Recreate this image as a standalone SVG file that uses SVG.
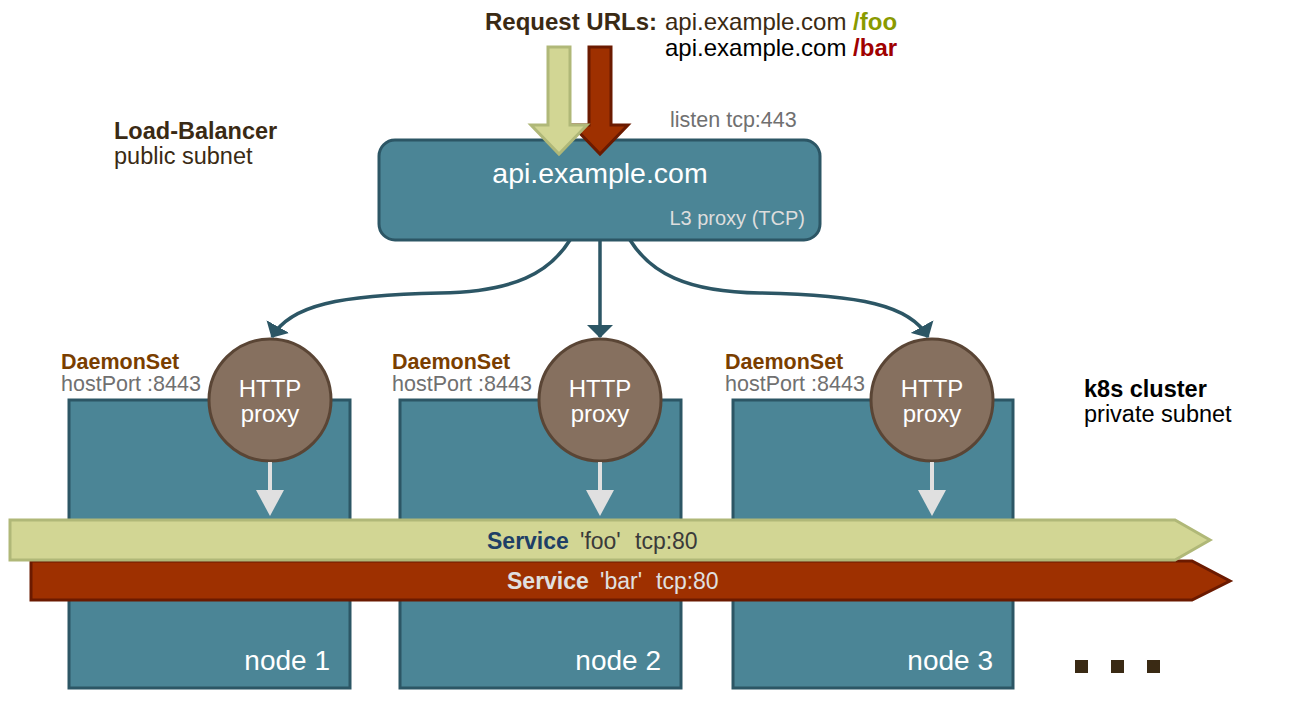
<svg xmlns="http://www.w3.org/2000/svg" width="1316" height="728" viewBox="0 0 1316 728">
<style>
text{font-family:"Liberation Sans",Arial,sans-serif}
.box{fill:#4b8596;stroke:#2c5665;stroke-width:3}
.proxy{fill:#86705f;stroke:#5a4535;stroke-width:3}
.wh{fill:#ffffff}
.ds{fill:#7a3e00;font-weight:bold;font-size:21.5px}
.hp{fill:#707070;font-size:21.5px}
.conn{fill:none;stroke:#2c5665;stroke-width:3.5}
.down{stroke:#e0e0e0;stroke-width:4}
.downh{fill:#e0e0e0}
.dot{fill:#3a2a14}
</style>
<defs>
<marker id="ah" viewBox="0 0 13 26" refX="12" refY="13" markerWidth="13" markerHeight="26" markerUnits="userSpaceOnUse" orient="auto">
<path d="M0,0 L13,13 L0,26 z" fill="#2c5665"/>
</marker>
</defs>

<g id="load-balancer">
<rect class="box" x="379" y="140" width="441" height="100" rx="16"/>
<text x="600" y="183" text-anchor="middle" class="wh" font-size="28.5">api.example.com</text>
<text x="805" y="225" text-anchor="end" fill="#dddddd" font-size="20">L3 proxy (TCP)</text>
</g>
<text x="670" y="127" fill="#707070" font-size="21.5">listen tcp:443</text>
<text x="114" y="139" fill="#3a2a14" font-size="23.5" font-weight="bold">Load-Balancer</text>
<text x="114" y="164" fill="#3a2a14" font-size="23.5">public subnet</text>
<text x="1084" y="397" fill="#000000" font-size="23.5" font-weight="bold">k8s cluster</text>
<text x="1084" y="422" fill="#000000" font-size="23.5">private subnet</text>

<g id="request-urls">
<text x="485" y="30" font-size="24"><tspan font-weight="bold" fill="#3a2a14">Request URLs:</tspan><tspan fill="#3a2a14" x="665">api.example.com </tspan><tspan font-weight="bold" fill="#8a9a00">/foo</tspan></text>
<text x="665" y="56" font-size="24"><tspan fill="#000000">api.example.com </tspan><tspan font-weight="bold" fill="#a00000">/bar</tspan></text>
<path d="M589,47 L611,47 L611,125 L628,125 L600,154 L572,125 L589,125 z" fill="#9e3000" stroke="#6b1a00" stroke-width="3"/>
<path d="M548,47 L570,47 L570,125 L587,125 L559,154 L531,125 L548,125 z" fill="#d2d694" stroke="#b0b878" stroke-width="3"/>
</g>

<g id="node1">
<rect class="box" x="69" y="400" width="281" height="288"/>
<text x="330" y="670" text-anchor="end" class="wh" font-size="28">node 1</text>
</g>
<g id="node2">
<rect class="box" x="400" y="400" width="281" height="288"/>
<text x="661" y="670" text-anchor="end" class="wh" font-size="28">node 2</text>
</g>
<g id="node3">
<rect class="box" x="733" y="400" width="280" height="288"/>
<text x="993" y="670" text-anchor="end" class="wh" font-size="28">node 3</text>
</g>

<g id="daemonset1">
<text x="61" y="369" class="ds">DaemonSet</text>
<text x="61" y="391" class="hp">hostPort :8443</text>
</g>
<g id="daemonset2">
<text x="392" y="369" class="ds">DaemonSet</text>
<text x="392" y="391" class="hp">hostPort :8443</text>
</g>
<g id="daemonset3">
<text x="725" y="369" class="ds">DaemonSet</text>
<text x="725" y="391" class="hp">hostPort :8443</text>
</g>

<g id="proxy1">
<circle class="proxy" cx="270" cy="400" r="61"/>
<text x="270" y="397" text-anchor="middle" class="wh" font-size="24">HTTP</text>
<text x="270" y="422" text-anchor="middle" class="wh" font-size="24">proxy</text>
</g>
<g id="proxy2">
<circle class="proxy" cx="600" cy="400" r="61"/>
<text x="600" y="397" text-anchor="middle" class="wh" font-size="24">HTTP</text>
<text x="600" y="422" text-anchor="middle" class="wh" font-size="24">proxy</text>
</g>
<g id="proxy3">
<circle class="proxy" cx="932" cy="400" r="61"/>
<text x="932" y="397" text-anchor="middle" class="wh" font-size="24">HTTP</text>
<text x="932" y="422" text-anchor="middle" class="wh" font-size="24">proxy</text>
</g>

<g id="connectors">
<path class="conn" d="M570,240 C550,272 515,292 440,293 C340,295 290,305 272,337" marker-end="url(#ah)"/>
<path class="conn" d="M600,240 L600,337" marker-end="url(#ah)"/>
<path class="conn" d="M630,240 C650,272 685,292 760,293 C860,295 910,305 928,337" marker-end="url(#ah)"/>
<line class="down" x1="270" y1="462" x2="270" y2="492"/>
<path class="downh" d="M256,490 L284,490 L270,516 z"/>
<line class="down" x1="600" y1="462" x2="600" y2="492"/>
<path class="downh" d="M586,490 L614,490 L600,516 z"/>
<line class="down" x1="932" y1="462" x2="932" y2="492"/>
<path class="downh" d="M918,490 L946,490 L932,516 z"/>
</g>

<g id="service-bar">
<path d="M31,561 L1192,561 L1230,581 L1192,600 L31,600 z" fill="#9e3000" stroke="#6b1a00" stroke-width="3"/>
<text x="507" y="589" font-size="23"><tspan font-weight="bold" fill="#e0e0e0">Service</tspan><tspan fill="#e0e0e0" x="600">'bar'</tspan><tspan fill="#e0e0e0" x="656">tcp:80</tspan></text>
</g>
<g id="service-foo">
<path d="M10,520 L1175,520 L1210,540 L1175,560 L10,560 z" fill="#d2d694" stroke="#b0b878" stroke-width="3"/>
<text x="487" y="549" font-size="23"><tspan font-weight="bold" fill="#1e3f66">Service</tspan><tspan fill="#3a3a3a" x="580">'foo'</tspan><tspan fill="#3a3a3a" x="635">tcp:80</tspan></text>
</g>

<g id="more">
<rect class="dot" x="1075" y="660" width="13" height="13"/>
<rect class="dot" x="1111" y="660" width="13" height="13"/>
<rect class="dot" x="1147" y="660" width="13" height="13"/>
</g>
</svg>
